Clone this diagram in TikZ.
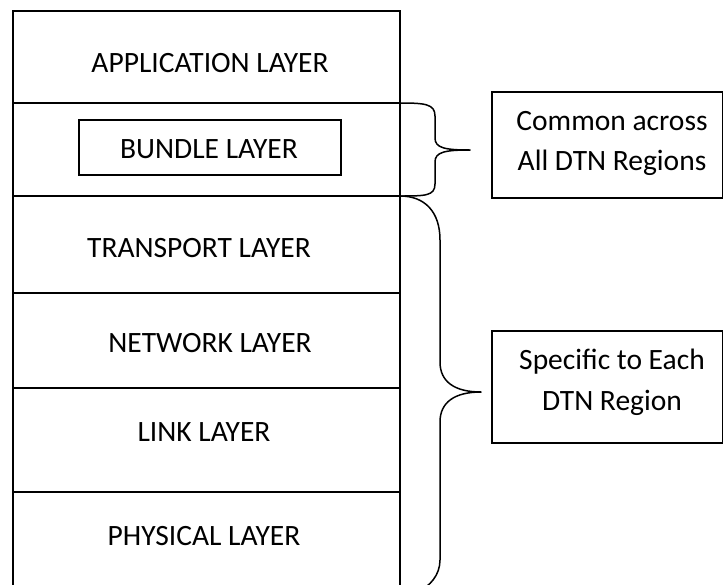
\documentclass[tikz,border=0pt]{standalone}
\usepackage{fontspec}
\setmainfont{Carlito}
\begin{document}
\begin{tikzpicture}[x=1pt,y=-1pt,line width=1.5pt,
  lbl/.style={font=\fontsize{29.5}{36}\selectfont,anchor=base,inner sep=0pt},
  framebox/.style={draw,line width=1.5pt,inner sep=0pt,anchor=north west},
  brace/.style={draw,line width=1.5pt,line join=round}]
\useasboundingbox (0,0) rectangle (723,584);
\clip (0,0) rectangle (723,584);
% stack
\coordinate (tl) at (13,11);
\coordinate (tr) at (400,11);
\coordinate (bl) at (13,640);
\coordinate (br) at (400,640);
\draw (bl) -- (tl) -- (tr) -- (br);
\foreach \y/\n in {103/a,196/b,293/c,388/d,492/e}{
  \coordinate (L\n) at (13,\y);
  \coordinate (R\n) at (400,\y);
  \draw (L\n) -- (R\n);
}
\node[framebox,minimum width=262pt,minimum height=55pt] (bundle) at (78,119) {};
\node[lbl] (app) at (210,72) {APPLICATION LAYER};
\node[lbl] (bun) at (209,158) {BUNDLE LAYER};
\node[lbl] (tra) at (199,257) {TRANSPORT LAYER};
\node[lbl] (net) at (210,352) {NETWORK LAYER};
\node[lbl] (lnk) at (204,441) {LINK LAYER};
\node[lbl] (phy) at (204,545) {PHYSICAL LAYER};
% right boxes
\node[framebox,minimum width=231pt,minimum height=106pt] (common) at (491,91) {};
\node[lbl] (c1) at (612,130) {Common across};
\node[lbl] (c2) at (612,170) {All DTN Regions};
\node[framebox,minimum width=231pt,minimum height=112pt] (spec) at (491,330) {};
\node[lbl] (s1) at (612,369) {Specific to Each};
\node[lbl] (s2) at (612,410) {DTN Region};
% upper brace
\coordinate (ut) at (470,150);
\draw[brace] (Ra) .. controls (425,103) and (435,104) .. (435,116)
  -- (435,138) .. controls (435,148) and (445,150) .. (ut)
  .. controls (445,150) and (435,152) .. (435,162)
  -- (435,184) .. controls (435,196) and (425,196) .. (Rb);
% lower brace
\coordinate (lt) at (481,392);
\draw[brace] (Rb) .. controls (425,196) and (440,212) .. (440,240)
  -- (440,362) .. controls (440,382) and (455,392) .. (lt)
  .. controls (455,392) and (440,402) .. (440,422)
  -- (440,560) .. controls (440,575) and (430,586) .. (418,592);
\end{tikzpicture}
\end{document}
